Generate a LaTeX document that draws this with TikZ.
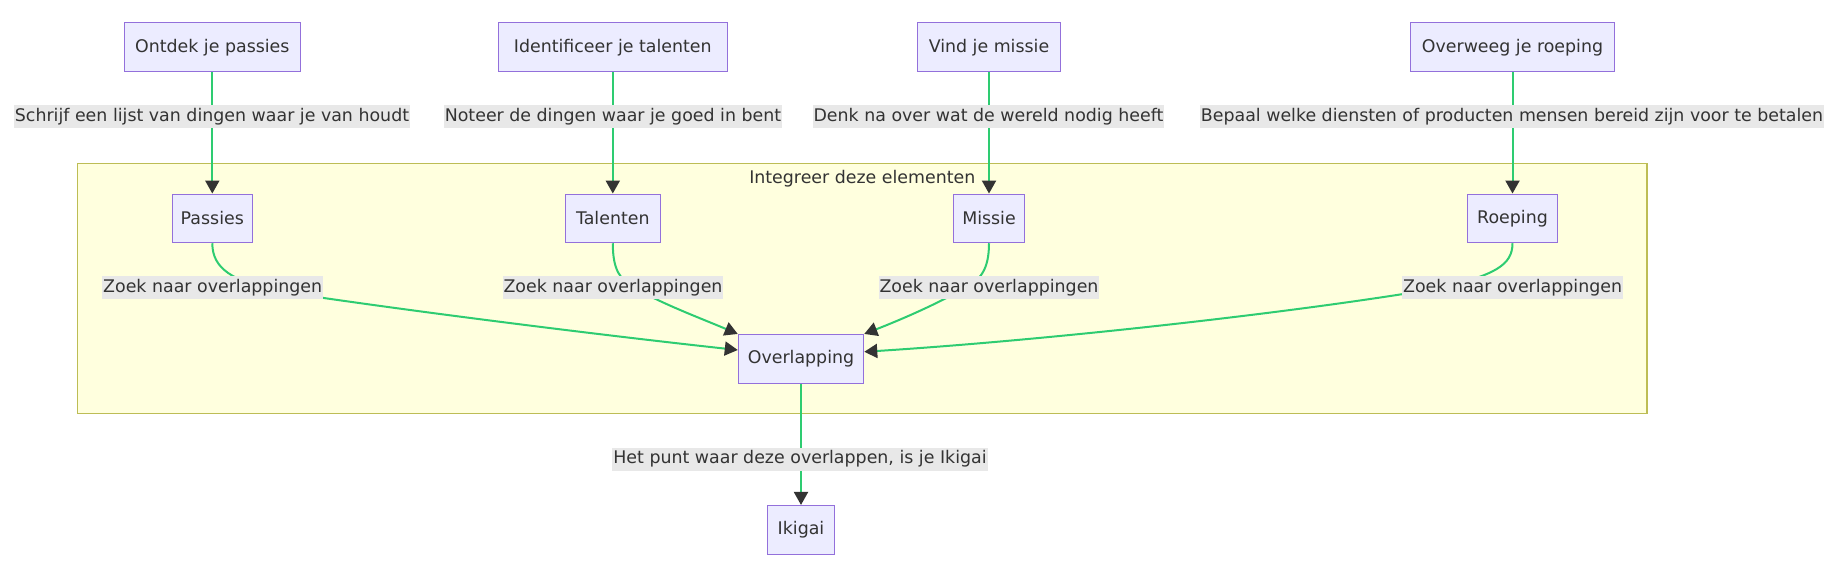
\documentclass[tikz,border=0pt]{standalone}
\usepackage{fontspec}
\setmainfont{DejaVu Sans}
\usetikzlibrary{arrows.meta}
\definecolor{nodefill}{HTML}{ECECFF}
\definecolor{nodeline}{HTML}{9370DB}
\definecolor{clfill}{HTML}{FFFFDE}
\definecolor{clline}{HTML}{BDBD55}
\definecolor{lblbg}{HTML}{E8E8E8}
\definecolor{txt}{HTML}{333333}
\definecolor{edgec}{HTML}{2ECC71}
\definecolor{arrowc}{HTML}{333333}
\begin{document}
\begin{tikzpicture}[x=1pt,y=-1pt,font=\fontsize{17.4}{20}\selectfont,
  box/.style={draw=nodeline,fill=nodefill,line width=1pt,text=txt,minimum height=48.7pt,inner sep=0pt},
  lbl/.style={fill=lblbg,text=txt,inner sep=1pt,minimum height=23pt,text height=13pt,text depth=4pt},
  edge/.style={draw=edgec,line width=2pt,-{Triangle[length=13pt,width=14pt,color=arrowc]}},
  cluster/.style={draw=clline,fill=clfill,line width=1.2pt,inner sep=0pt}]
\useasboundingbox (0,0) rectangle (1844,569);
% cluster
\node[cluster,minimum width=1569.3pt,minimum height=250.4pt] (cl) at (862.35,288.5) {};
\node[text=txt,inner sep=0pt] (cltitle) at (862.35,179) {Integreer deze elementen};
% top nodes
\node[box,minimum width=175.5pt] (a1) at (212.3,47.3) {Ontdek je passies};
\node[box,minimum width=229pt] (a2) at (612.8,47.3) {Identificeer je talenten};
\node[box,minimum width=143pt] (a3) at (989,47.3) {Vind je missie};
\node[box,minimum width=204pt] (a4) at (1512.5,47.3) {Overweeg je roeping};
% inner nodes
\node[box,minimum width=80pt] (b1) at (212.3,218.4) {Passies};
\node[box,minimum width=95.5pt] (b2) at (612.8,218.4) {Talenten};
\node[box,minimum width=71.7pt] (b3) at (989,218.4) {Missie};
\node[box,minimum width=89.3pt] (b4) at (1512.5,218.4) {Roeping};
\node[box,minimum width=125.5pt] (ov) at (801,358.8) {Overlapping};
\node[box,minimum width=66.4pt] (ik) at (801,529.8) {Ikigai};
% edges
\draw[edge] (a1) -- (b1);
\draw[edge] (a2) -- (b2);
\draw[edge] (a3) -- (b3);
\draw[edge] (a4) -- (b4);
\draw[edge] (b1.south) .. controls (212.3,270) and (235,280) .. (270,290) .. controls (400,310) and (600,335) .. ([yshift=8.8pt]ov.west);
\draw[edge] (b2.south) .. controls (612.8,270) and (620,280) .. (635,288) .. controls (660,303) and (700,318) .. (ov.north west);
\draw[edge] (b3.south) .. controls (989,270) and (980,280) .. (965,288) .. controls (935,305) and (900,320) .. (ov.north east);
\draw[edge] (b4.south) .. controls (1512.5,265) and (1495,275) .. (1440,288) .. controls (1300,312) and (1050,340) .. ([yshift=7pt]ov.east);
\draw[edge] (ov) -- (ik);
% labels
\node[lbl] (l1) at (212,116.7) {Schrijf een lijst van dingen waar je van houdt};
\node[lbl] (l2) at (613,116.7) {Noteer de dingen waar je goed in bent};
\node[lbl] (l3) at (988.5,116.7) {Denk na over wat de wereld nodig heeft};
\node[lbl] (l4) at (1512,116.7) {Bepaal welke diensten of producten mensen bereid zijn voor te betalen};
\node[lbl] (z1) at (212.7,287.8) {Zoek naar overlappingen};
\node[lbl] (z2) at (613,287.8) {Zoek naar overlappingen};
\node[lbl] (z3) at (989,287.8) {Zoek naar overlappingen};
\node[lbl] (z4) at (1512.6,287.8) {Zoek naar overlappingen};
\node[lbl] (l5) at (800,459) {Het punt waar deze overlappen, is je Ikigai};
\end{tikzpicture}
\end{document}
